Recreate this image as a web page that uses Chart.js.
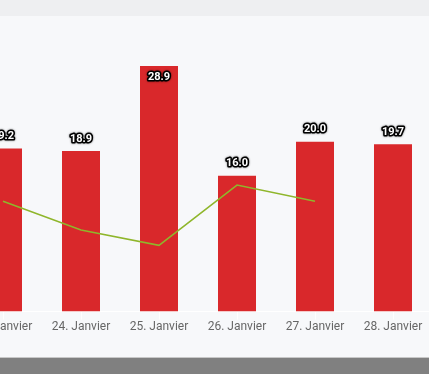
<!DOCTYPE html>
<html>
<head>
<meta charset="utf-8">
<script src="https://cdn.jsdelivr.net/npm/chart.js@4/dist/chart.umd.min.js"></script>
<style>
  html, body { margin: 0; padding: 0; }
  body { width: 429px; height: 374px; overflow: hidden; position: relative; background: #f7f8fa; font-family: Roboto, sans-serif; }
  #topBand { position: absolute; left: 0; top: 0; width: 429px; height: 16px; background: #eeeff1; }
  #bottomLine { position: absolute; left: 0; top: 357px; width: 429px; height: 1px; background: #c8c8c8; }
  #bottomBand { position: absolute; left: 0; top: 358px; width: 429px; height: 16px; background: #808080; }
  #wrap { position: absolute; left: -36px; top: 16px; width: 468px; height: 341px; }
</style>
</head>
<body>
<div id="topBand"></div>
<div id="wrap"><canvas id="c"></canvas></div>
<div id="bottomLine"></div>
<div id="bottomBand"></div>
<script>
const categories = ["23. Janvier", "24. Janvier", "25. Janvier", "26. Janvier", "27. Janvier", "28. Janvier"];
const barValues = [19.2, 18.9, 28.9, 16.0, 20.0, 19.7];
const lineValues = [13.0, 9.6, 7.8, 14.9, 13.0, null];
const yMin = 0;
const yMax = 34.8;
const insideLimit = 30;

const labelPlugin = {
  id: 'barLabels',
  afterDatasetsDraw(chart) {
    const ctx = chart.ctx;
    const meta = chart.getDatasetMeta(0);
    const yScale = chart.scales.y;
    const limitPx = yScale.getPixelForValue(insideLimit);
    ctx.save();
    ctx.font = 'bold 11px Roboto, sans-serif';
    ctx.textAlign = 'center';
    ctx.textBaseline = 'middle';
    ctx.lineJoin = 'round';
    meta.data.forEach((bar, i) => {
      const v = barValues[i];
      if (v == null) return;
      const txt = v.toFixed(1);
      let y = bar.y - 12;
      if (y - 8 < limitPx) y = bar.y + 11;
      ctx.strokeStyle = '#000';
      ctx.lineWidth = 3.2;
      ctx.shadowColor = 'rgba(0,0,0,0.6)';
      ctx.shadowBlur = 2;
      ctx.strokeText(txt, bar.x, y);
      ctx.shadowBlur = 0;
      ctx.fillStyle = '#fff';
      ctx.fillText(txt, bar.x, y);
    });
    ctx.restore();
  }
};

new Chart(document.getElementById('c'), {
  type: 'bar',
  data: {
    labels: categories,
    datasets: [
      {
        type: 'bar',
        data: barValues,
        backgroundColor: '#d9282b',
        borderWidth: 0,
        barPercentage: 38 / 78,
        categoryPercentage: 1,
        order: 2
      },
      {
        type: 'line',
        data: lineValues,
        borderColor: '#8fb62b',
        borderWidth: 1.5,
        pointRadius: 0,
        fill: false,
        tension: 0,
        spanGaps: false,
        order: 1
      }
    ]
  },
  options: {
    responsive: true,
    maintainAspectRatio: false,
    animation: false,
    events: [],
    layout: { padding: { left: 0, right: 0, top: 0, bottom: 23 } },
    plugins: { legend: { display: false }, tooltip: { enabled: false } },
    scales: {
      x: {
        offset: true,
        border: { display: true, color: '#ffffff', width: 1 },
        grid: { display: true, offset: false, drawOnChartArea: false, color: '#ffffff', tickLength: 8 },
        ticks: { color: '#666666', font: { family: 'Roboto, sans-serif', size: 12 }, padding: 0, maxRotation: 0, autoSkip: false }
      },
      y: {
        display: false,
        min: yMin,
        max: yMax
      }
    }
  },
  plugins: [labelPlugin]
});
</script>
</body>
</html>
